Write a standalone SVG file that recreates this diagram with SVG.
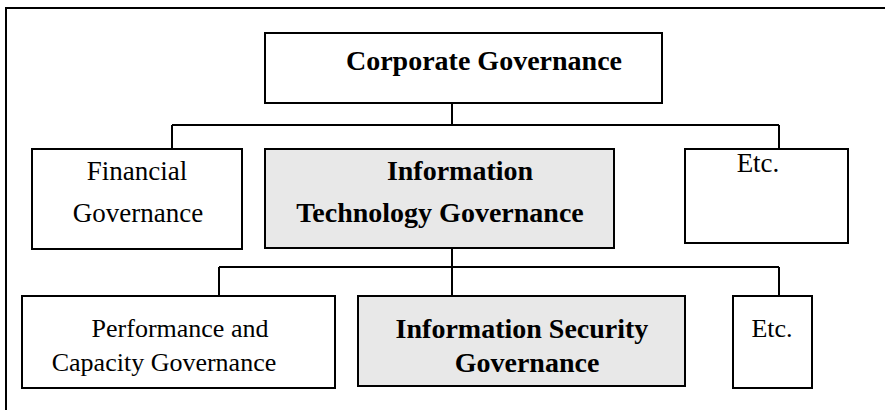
<svg xmlns="http://www.w3.org/2000/svg" width="885" height="410" viewBox="0 0 885 410">
<style>
.box{fill:#fff;stroke:#000;stroke-width:2}
.hl{fill:#e8e8e8;stroke:#000;stroke-width:2}
.ln{fill:none;stroke:#000;stroke-width:2}
text{font-family:"Liberation Serif","Times New Roman",serif;fill:#000;text-anchor:middle}
.b{font-weight:bold;font-size:28px}
.r{font-size:27px}
.r3{font-size:26px}
</style>
<rect width="885" height="410" fill="#fff"/>
<path class="ln" d="M6 410 V8 H885"/>
<g id="connectors">
<path class="ln" d="M452 103 V125 M172 125 H779 M172 125 V149 M779 125 V149"/>
<path class="ln" d="M452 249 V296 M219 267 H779 M219 267 V296 M779 267 V296"/>
</g>
<g id="corporate">
<rect class="box" x="265" y="33" width="397" height="70"/>
<text class="b" x="484" y="70">Corporate Governance</text>
</g>
<g id="financial">
<rect class="box" x="32" y="149" width="210" height="100"/>
<text class="r" x="137" y="180">Financial</text>
<text class="r" x="138" y="222">Governance</text>
</g>
<g id="itg">
<rect class="hl" x="265" y="149" width="349" height="99"/>
<text class="b" x="460" y="180">Information</text>
<text class="b" x="440" y="222">Technology Governance</text>
</g>
<g id="etc1">
<rect class="box" x="685" y="149" width="163" height="94"/>
<text class="r" x="758" y="172">Etc.</text>
</g>
<g id="performance">
<rect class="box" x="22" y="296" width="313" height="92"/>
<text class="r3" x="180" y="337">Performance and</text>
<text class="r3" x="164" y="371">Capacity Governance</text>
</g>
<g id="isg">
<rect class="hl" x="358" y="296" width="327" height="90"/>
<text class="b" x="522" y="338">Information Security</text>
<text class="b" x="527" y="372">Governance</text>
</g>
<g id="etc2">
<rect class="box" x="733" y="296" width="79" height="92"/>
<text class="r3" x="772" y="337">Etc.</text>
</g>
</svg>
